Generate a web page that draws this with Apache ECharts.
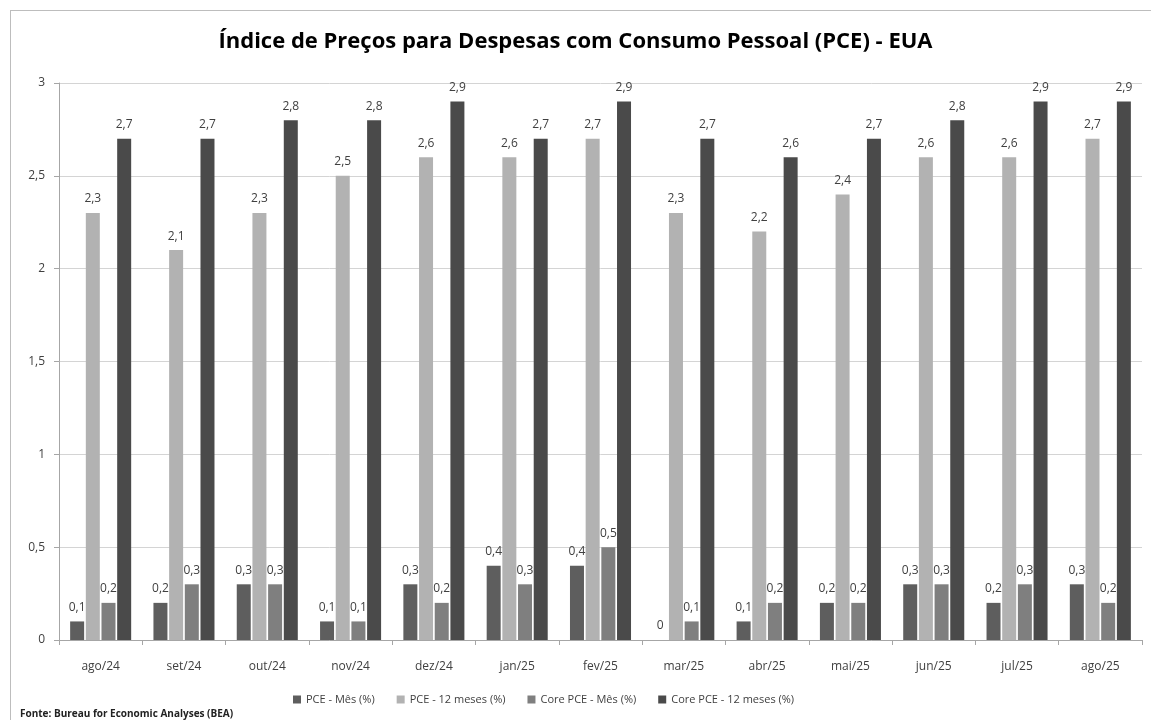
<!DOCTYPE html>
<html>
<head>
<meta charset="utf-8">
<script src="https://cdn.jsdelivr.net/npm/echarts@6/dist/echarts.min.js"></script>
<style>
  html, body { margin: 0; padding: 0; background: #fff; }
  #frame { position: absolute; left: 10px; top: 10px; width: 1150px; height: 730px; border: 1px solid #bdbdbd; }
  #chart { position: absolute; left: 0; top: 0; width: 1151px; height: 720px; }
</style>
</head>
<body>
<div id="frame"></div>
<div id="chart"></div>
<script>
// categorias (meses)
const months = ['ago/24', 'set/24', 'out/24', 'nov/24', 'dez/24', 'jan/25', 'fev/25',
  'mar/25', 'abr/25', 'mai/25', 'jun/25', 'jul/25', 'ago/25'];

// séries
const pceMes = [0.1, 0.2, 0.3, 0.1, 0.3, 0.4, 0.4, 0, 0.1, 0.2, 0.3, 0.2, 0.3];
const pce12 = [2.3, 2.1, 2.3, 2.5, 2.6, 2.6, 2.7, 2.3, 2.2, 2.4, 2.6, 2.6, 2.7];
const coreMes = [0.2, 0.3, 0.3, 0.1, 0.2, 0.3, 0.5, 0.1, 0.2, 0.2, 0.3, 0.3, 0.2];
const core12 = [2.7, 2.7, 2.8, 2.8, 2.9, 2.7, 2.9, 2.7, 2.6, 2.7, 2.8, 2.9, 2.9];

const seriesNames = ['PCE - Mês (%)', 'PCE - 12 meses (%)', 'Core PCE - Mês (%)', 'Core PCE - 12 meses (%)'];
const colors = ['#5e5e5e', '#b2b2b2', '#7f7f7f', '#4a4a4a'];

const fontFamily = '"Open Sans", "Noto Sans", sans-serif';
const comma = v => String(v).replace('.', ',');

const chart = echarts.init(document.getElementById('chart'));

const series = [pceMes, pce12, coreMes, core12].map((data, i) => ({
  name: seriesNames[i],
  type: 'bar',
  data: data,
  barWidth: 14,
  barGap: '12%',
  itemStyle: { color: colors[i] },
  label: {
    show: true,
    position: 'top',
    distance: 8,
    color: '#404040',
    fontSize: 12,
    fontFamily: fontFamily,
    formatter: p => comma(p.value)
  }
}));

chart.setOption({
  animation: false,
  textStyle: { fontFamily: fontFamily },
  title: {
    text: 'Índice de Preços para Despesas com Consumo Pessoal (PCE) - EUA',
    left: 'center',
    top: 26,
    textStyle: { fontSize: 22, fontWeight: 'bold', color: '#000', fontFamily: fontFamily }
  },
  legend: {
    data: seriesNames,
    bottom: 10,
    left: 288,
    itemWidth: 8,
    itemHeight: 8,
    itemGap: 22,
    icon: 'rect',
    textStyle: { fontSize: 11, color: '#404040' }
  },
  grid: { left: 59, right: 9, top: 83, bottom: 80 },
  xAxis: {
    type: 'category',
    data: months,
    axisLine: { lineStyle: { color: '#a6a6a6' } },
    axisTick: { show: true, lineStyle: { color: '#a6a6a6' }, length: 5 },
    axisLabel: { color: '#404040', fontSize: 12, margin: 21 }
  },
  yAxis: {
    type: 'value',
    min: 0,
    max: 3,
    interval: 0.5,
    axisLine: { show: true, lineStyle: { color: '#a6a6a6' } },
    axisTick: { show: true, lineStyle: { color: '#a6a6a6' }, length: 5 },
    axisLabel: { color: '#404040', fontSize: 12, margin: 14, formatter: v => comma(v) },
    splitLine: { lineStyle: { color: '#d4d4d4' } }
  },
  graphic: [{
    type: 'text',
    left: 20,
    top: 709,
    style: {
      text: 'Fonte: Bureau for Economic Analyses (BEA)',
      font: 'bold 10px "Open Sans", sans-serif',
      fill: '#222'
    }
  }],
  series: series
});
</script>
</body>
</html>
